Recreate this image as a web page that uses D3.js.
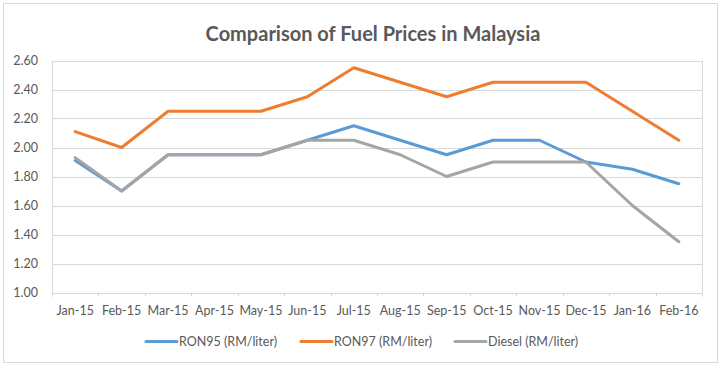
<!DOCTYPE html>
<html>
<head>
<meta charset="utf-8">
<script src="https://cdn.jsdelivr.net/npm/d3@7"></script>
<style>
  body { margin: 0; background: #fff; }
  svg text { font-family: Lato, "Open Sans", sans-serif; fill: #595959; }
</style>
</head>
<body>
<div id="chart"></div>
<script>
// data
var months = ["Jan-15","Feb-15","Mar-15","Apr-15","May-15","Jun-15","Jul-15",
              "Aug-15","Sep-15","Oct-15","Nov-15","Dec-15","Jan-16","Feb-16"];
var ron95  = [1.91, 1.70, 1.95, 1.95, 1.95, 2.05, 2.15, 2.05, 1.95, 2.05, 2.05, 1.90, 1.85, 1.75];
var ron97  = [2.11, 2.00, 2.25, 2.25, 2.25, 2.35, 2.55, 2.45, 2.35, 2.45, 2.45, 2.45, 2.25, 2.05];
var diesel = [1.93, 1.70, 1.95, 1.95, 1.95, 2.05, 2.05, 1.95, 1.80, 1.90, 1.90, 1.90, 1.60, 1.35];
var yTicks = [1.00, 1.20, 1.40, 1.60, 1.80, 2.00, 2.20, 2.40, 2.60];

var series = [
  {name: "RON95 (RM/liter)",  values: ron95,  color: "#5B9BD5"},
  {name: "RON97 (RM/liter)",  values: ron97,  color: "#ED7D31"},
  {name: "Diesel (RM/liter)", values: diesel, color: "#A5A5A5"}
];

var width = 724, height = 369;
var plot = {left: 52, right: 702, top: 60.5, bottom: 292.5};

var svg = d3.select("#chart").append("svg")
    .attr("width", width)
    .attr("height", height);

// outer chart border
svg.append("rect")
    .attr("x", 3.5).attr("y", 3.5)
    .attr("width", 714).attr("height", 359)
    .style("fill", "#fff")
    .style("stroke", "#D9D9D9")
    .style("stroke-width", 1);

var xScale = d3.scaleBand()
    .domain(months)
    .range([plot.left, plot.right]);

var yScale = d3.scaleLinear()
    .domain([1.0, 2.6])
    .range([plot.bottom, plot.top]);

// gridlines
svg.append("g").selectAll(".grid")
    .data(yTicks)
  .enter()
    .append("line")
    .attr("class", "grid")
    .attr("x1", plot.left).attr("x2", plot.right)
    .attr("y1", function(d) { return Math.round(yScale(d)) + 0.5; })
    .attr("y2", function(d) { return Math.round(yScale(d)) + 0.5; })
    .style("stroke", "#D9D9D9");

// plot frame sides
[plot.left, plot.right].forEach(function(px) {
  svg.append("line")
      .attr("x1", px + 0.5).attr("x2", px + 0.5)
      .attr("y1", plot.top).attr("y2", plot.bottom + 4)
      .style("stroke", "#D9D9D9");
});

// x tick marks at band edges
var edges = months.map(function(m) { return xScale(m); }).concat([plot.right]);
svg.append("g").selectAll(".xtick")
    .data(edges)
  .enter()
    .append("line")
    .attr("x1", function(d) { return Math.round(d) + 0.5; })
    .attr("x2", function(d) { return Math.round(d) + 0.5; })
    .attr("y1", plot.bottom).attr("y2", plot.bottom + 4)
    .style("stroke", "#D9D9D9");

// x labels
svg.append("g").selectAll(".xlabel")
    .data(months)
  .enter()
    .append("text")
    .attr("x", function(d) { return xScale(d) + xScale.bandwidth() / 2; })
    .attr("y", 315)
    .attr("text-anchor", "middle")
    .style("font-size", "12.5px")
    .text(function(d) { return d; });

// y labels
svg.append("g").selectAll(".ylabel")
    .data(yTicks)
  .enter()
    .append("text")
    .attr("x", 38)
    .attr("y", function(d) { return yScale(d) + 4; })
    .attr("text-anchor", "end")
    .style("font-size", "12.5px")
    .text(function(d) { return d.toFixed(2); });

// series lines
var line = d3.line()
    .x(function(d, i) { return xScale(months[i]) + xScale.bandwidth() / 2; })
    .y(function(d) { return yScale(d); });

svg.append("g").selectAll(".series")
    .data(series)
  .enter()
    .append("path")
    .attr("d", function(d) { return line(d.values); })
    .style("fill", "none")
    .style("stroke", function(d) { return d.color; })
    .style("stroke-width", 3)
    .style("stroke-linejoin", "round")
    .style("stroke-linecap", "round");

// title
svg.append("text")
    .attr("x", 373)
    .attr("y", 41)
    .attr("text-anchor", "middle")
    .style("font-size", "20px")
    .style("font-weight", "bold")
    .text("Comparison of Fuel Prices in Malaysia");

// legend
var legendX = [146, 301, 455];
var legend = svg.append("g").selectAll(".legend")
    .data(series)
  .enter()
    .append("g")
    .attr("transform", function(d, i) { return "translate(" + legendX[i] + ",341.5)"; });

legend.append("line")
    .attr("x1", 0).attr("x2", 31)
    .attr("y1", 0).attr("y2", 0)
    .style("stroke", function(d) { return d.color; })
    .style("stroke-width", 3)
    .style("stroke-linecap", "round");

legend.append("text")
    .attr("x", 33)
    .attr("y", 4.5)
    .style("font-size", "12.5px")
    .text(function(d) { return d.name; });
</script>
</body>
</html>
